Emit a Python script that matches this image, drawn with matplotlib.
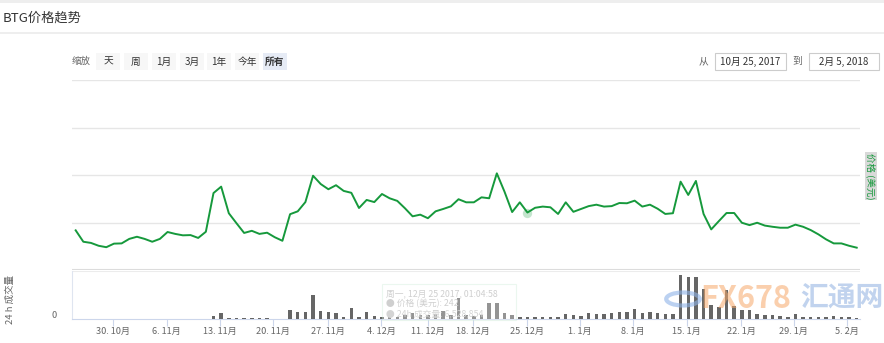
import matplotlib.pyplot as plt
import matplotlib.patches as mpatches
import numpy as np

plt.rcParams['font.family'] = ['Noto Sans CJK SC', 'DejaVu Sans']

# --- data (one point per trading day, ordinal x axis) ---
price = [167, 119, 114, 102, 96, 111, 112, 131, 140, 131,
         119, 131, 160, 152, 146, 147, 135, 161, 324, 351,
         239, 197, 156, 165, 152, 157, 138, 123, 235, 247,
         286, 397, 362, 340, 357, 333, 325, 261, 295, 286,
         320, 302, 291, 260, 226, 233, 218, 247, 257, 268,
         298, 285, 285, 306, 302, 407, 330, 244, 285, 242,
         262, 267, 264, 236, 285, 245, 257, 269, 275, 267,
         269, 282, 281, 292, 267, 275, 258, 236, 239, 372,
         316, 375, 236, 171, 206, 240, 240, 199, 189, 199,
         187, 182, 178, 178, 191, 182, 168, 150, 129, 112,
         112, 102, 94]

volume = [0, 0, 0, 0, 0, 0, 0, 0, 0, 0,
          0, 0, 0, 0, 0, 0, 0, 0, 3.0, 5.7,
          1.3, 0.7, 0.7, 0.7, 0.7, 0.7, 0, 0, 9.5, 7.0,
          7.0, 24.5, 8.0, 7.0, 6.0, 2.5, 11.0, 2.5, 7.0, 3.5,
          2.5, 2.3, 2.3, 4.0, 6.3, 4.3, 4.3, 5.0, 8.3, 4.0,
          21.3, 4.0, 3.0, 4.0, 16.3, 16.3, 6.3, 4.0, 2.3, 1.7,
          1.7, 1.7, 1.7, 1.7, 4.7, 4.0, 3.3, 6.3, 4.7, 4.7,
          6.3, 7.3, 7.3, 9.7, 5.7, 7.3, 6.3, 4.7, 4.7, 44.0,
          42.3, 42.3, 29.7, 14.0, 12.3, 29.0, 13.0, 9.0, 9.0, 5.0,
          4.0, 4.0, 3.0, 2.3, 5.0, 1.7, 1.7, 2.3, 2.3, 3.3,
          2.3, 1.7, 1.0]

tick_pos = [4.9, 11.9, 18.8, 25.8, 32.9, 39.9, 46.0, 51.9, 58.9,
            65.8, 72.8, 79.8, 86.9, 93.8, 100.7]
tick_labels = ['30. 10月', '6. 11月', '13. 11月', '20. 11月', '27. 11月',
               '4. 12月', '11. 12月', '18. 12月', '25. 12月', '1. 1月',
               '8. 1月', '15. 1月', '22. 1月', '29. 1月', '5. 2月']

zoom_buttons = ['天', '周', '1月', '3月', '1年', '今年', '所有']
hover_idx = 59

W, H = 884, 343
GREEN = '#16993c'
GRID = '#e6e6e6'
TXT = '#666666'

fig = plt.figure(figsize=(W / 100, H / 100), dpi=100)
fig.patch.set_facecolor('white')


def fx(px):
    return px / W


def fy(py):
    return 1 - py / H


x = np.arange(len(price))
xlim = (-0.48, len(price) - 1 + 0.43)

# --- price panel ---
ax = fig.add_axes([fx(72), fy(270), fx(860) - fx(72), fy(80) - fy(270)])
ax.plot(x, price, color=GREEN, linewidth=1.4, zorder=3)
ax.scatter([hover_idx], [price[hover_idx]], s=45, color=GREEN, alpha=0.25,
           linewidths=0, zorder=4)
ax.set_xlim(*xlim)
ax.set_ylim(0, 800)
ax.set_yticks([200, 400, 600, 800])
ax.yaxis.grid(True, color=GRID, linewidth=1)
ax.set_xticks([])
ax.tick_params(axis='y', length=0, labelleft=False)
for s in ax.spines.values():
    s.set_visible(False)
ax.axhline(0, color='#dcdcdc', linewidth=1.5)

# --- volume panel ---
av = fig.add_axes([fx(72), fy(319), fx(860) - fx(72), fy(271) - fy(319)])
av.bar(x, volume, width=0.45, color='#666666', zorder=3)
av.set_xlim(*xlim)
av.set_ylim(0, 48)
av.set_yticks([])
for s in ['top', 'right']:
    av.spines[s].set_visible(False)
av.spines['left'].set_color('#dfe5f0')
av.spines['bottom'].set_color('#ccd6eb')
av.axhline(48, color='#ececec', linewidth=1.5)
av.set_xticks(tick_pos)
av.set_xticklabels(tick_labels, fontsize=6.6, color=TXT)
av.tick_params(axis='x', length=5, color='#ccd6eb', pad=1)
av.text(-0.02, 0.08, '0', transform=av.transAxes, ha='right', va='center',
        fontsize=6.6, color=TXT)

# --- labels around the chart ---
fig.text(fx(3), fy(18), 'BTG价格趋势', fontsize=9.5, color='#333333',
         ha='left', va='center')
fig.add_artist(plt.Line2D([0, 1], [fy(33), fy(33)], color='#ebebeb', linewidth=1.2))
fig.add_artist(mpatches.Rectangle((0, fy(3)), 1, fy(0) - fy(3), color='#eeeeee',
                                  transform=fig.transFigure, linewidth=0))

fig.text(fx(72), fy(61), '缩放', fontsize=6.8, color=TXT, ha='left', va='center')
btn_left = [96, 124, 152, 180, 207, 235, 263]
for lab, bx in zip(zoom_buttons, btn_left):
    sel = lab == '所有'
    fig.add_artist(mpatches.Rectangle((fx(bx), fy(70)), fx(24), fy(53) - fy(70),
                                      transform=fig.transFigure, linewidth=0,
                                      color='#e6ebf5' if sel else '#f7f7f7'))
    fig.text(fx(bx + 12), fy(61.5), lab, fontsize=7, color='#333333',
             ha='center', va='center', fontweight='bold' if sel else 'normal')

fig.text(fx(703), fy(61), '从', fontsize=7, color=TXT, ha='center', va='center')
fig.text(fx(797), fy(61), '到', fontsize=7, color=TXT, ha='center', va='center')
for bx, bw, lab in [(715, 71, '10月 25, 2017'), (809, 70, '2月 5, 2018')]:
    fig.add_artist(mpatches.Rectangle((fx(bx), fy(70)), fx(bw), fy(53) - fy(70),
                                      transform=fig.transFigure, facecolor='white',
                                      edgecolor='#cccccc', linewidth=0.8))
    fig.text(fx(bx + bw / 2), fy(61.5), lab, fontsize=7, color='#333333',
             ha='center', va='center')

fig.text(fx(871), fy(176), '价格 (美元)', fontsize=6.8, color=GREEN,
         rotation=270, ha='center', va='center',
         bbox=dict(boxstyle='square,pad=0.1', facecolor='#d9d9d9', edgecolor='none'))
fig.text(fx(10), fy(299), '24 h 成交量', fontsize=6.8, color=TXT,
         rotation=90, ha='center', va='center')

# faded tooltip (fading out, bars show through)
fig.add_artist(mpatches.Rectangle((fx(382), fy(320)), fx(134), fy(284) - fy(320),
                                  transform=fig.transFigure, facecolor='white',
                                  edgecolor='#bfe6ca', linewidth=0.8, alpha=0.3))
fig.text(fx(386), fy(294), '周一, 12月 25 2017, 01:04:58', fontsize=6.3,
         color='#cfcfcf', ha='left', va='center')
fig.text(fx(386), fy(304), '● 价格 (美元): 242', fontsize=6.3,
         color='#cfcfcf', ha='left', va='center')
fig.text(fx(386), fy(314), '● 24h 成交量: 6,528,854', fontsize=6.3,
         color='#d4d4d4', ha='left', va='center')

# watermark
fig.add_artist(mpatches.Circle((fx(683), fy(299)), 0.019, transform=fig.transFigure,
                               facecolor='none', edgecolor='#8fb3e8', linewidth=3,
                               alpha=0.6))
fig.text(fx(700), fy(299), 'FX678', fontsize=22, color='#f7a86a', alpha=0.55,
         ha='left', va='center', fontweight='bold')
fig.text(fx(800), fy(299), '汇通网', fontsize=20, color='#8fb0e0', alpha=0.55,
         ha='left', va='center', fontweight='bold')

fig.savefig('out.png', dpi=100, facecolor='white')
